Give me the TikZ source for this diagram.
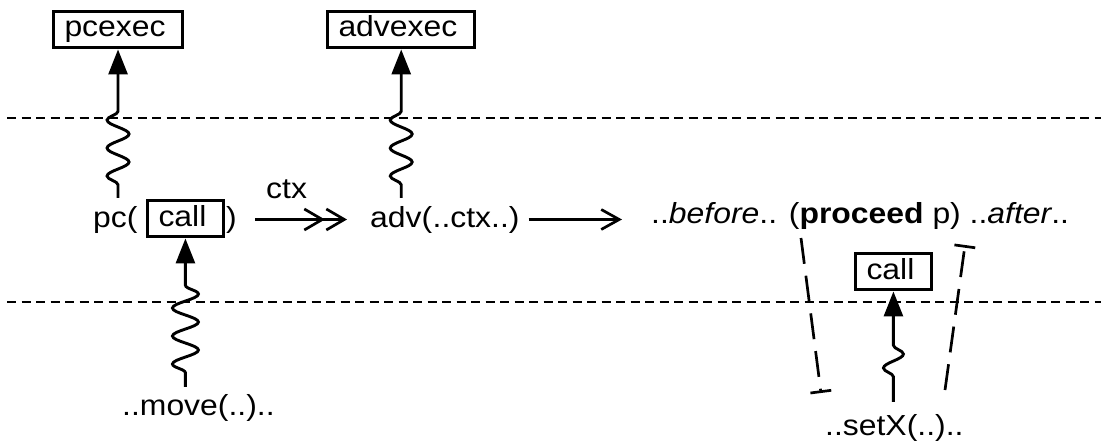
\documentclass[tikz,border=0pt]{standalone}
\usepackage{fontspec}
\setmainfont{Liberation Sans}[FakeStretch=1.1]
\usetikzlibrary{arrows.meta,decorations.pathmorphing}
\newcommand\bxt[1]{\strut\kern11pt#1\kern17pt}
\begin{document}
\begin{tikzpicture}[x=1pt,y=-1pt,
  every node/.style={font=\fontsize{29pt}{36.5pt}\selectfont, inner sep=0pt},
  rbox/.style={draw, line width=3pt, inner sep=0pt},
  hdash/.style={line width=2.7pt, dash pattern=on 9pt off 5.5pt},
  brk/.style={line width=2.7pt, dash pattern=on 26pt off 12pt, -{Bar[width=21pt]}},
  open1/.style={line width=2.7pt, -{Straight Barb[length=18pt,width=20pt]}},
  dbl/.style={line width=2.7pt, -{Straight Barb[length=18pt,width=21pt] Straight Barb[length=18pt,width=21pt]}},
  wv/.style n args={3}{line width=2.9pt, decorate,
     decoration={snake, segment length=28pt, amplitude=#1, pre length=#2, post length=#3},
     -{Triangle[length=25pt,width=19pt]}}]
\useasboundingbox (0,0) rectangle (1101,444);
% separator lines
\coordinate (t1) at (7,118);  \coordinate (t2) at (1101,118);
\coordinate (b1) at (7,302);  \coordinate (b2) at (1101,302);
\draw[hdash] (t1) -- (t2);
\draw[hdash] (b1) -- (b2);
% nodes
\node[rbox, anchor=base west] (pcexec) at (52,37) {\bxt{pcexec}};
\node[rbox, anchor=base west] (advexec) at (326,37) {\bxt{advexec}};
\node[anchor=base west] (pc) at (93,227) {pc(};
\node[rbox, anchor=base west] (callA) at (146,226) {\bxt{call}};
\node[anchor=base west] (pcclose) at (226,227) {)};
\node[anchor=base west] (ctx) at (266,198) {ctx};
\node[anchor=base west] (advname) at (370,227) {adv(};
\node[anchor=base west] (advarg) at (advname.base east) {..ctx..)};
\node[anchor=base west] (body) at (651,223) {..\textit{before}.. (\textbf{proceed} p) ..\textit{after}..};
\node[rbox, anchor=base west] (callB) at (854,279) {\bxt{call}};
\node[anchor=base west] (move) at (122,415) {..move(..)..};
\node[anchor=base west] (setx) at (825,435) {..setX(..)..};
% wave start points
\path (pc.north -| pcexec.south) ++(0,-8) coordinate (pcw);
\path (advname.north) ++(0,-8) coordinate (advw);
\path (callA.south |- move.north) ++(0,-7) coordinate (mvw);
\path (callB.south |- setx.north) ++(0,-12) coordinate (sxw);
\draw[wv={11pt}{13pt}{49pt}] (pcw) -- (pcexec.south);
\draw[wv={11pt}{13pt}{50pt}] (advw) -- (advw |- advexec.south);
\draw[wv={13pt}{14pt}{39pt}] (mvw) -- (callA.south);
\draw[wv={10pt}{25pt}{50pt}] (sxw) -- (callB.south);
% arrows
\draw[dbl, shorten <=18pt, shorten >=23pt] (pcclose.east) -- (advname.west);
\draw[open1, shorten <=9pt, shorten >=29pt] (advarg.east) -- (advarg.east -| body.west);
% dashed brackets
\coordinate (lb1) at (801,238); \coordinate (lb2) at (821,393);
\coordinate (rb1) at (945,390); \coordinate (rb2) at (965,245);
\draw[brk] (lb1) -- (lb2);
\draw[brk] (rb1) -- (rb2);
\end{tikzpicture}
\end{document}
